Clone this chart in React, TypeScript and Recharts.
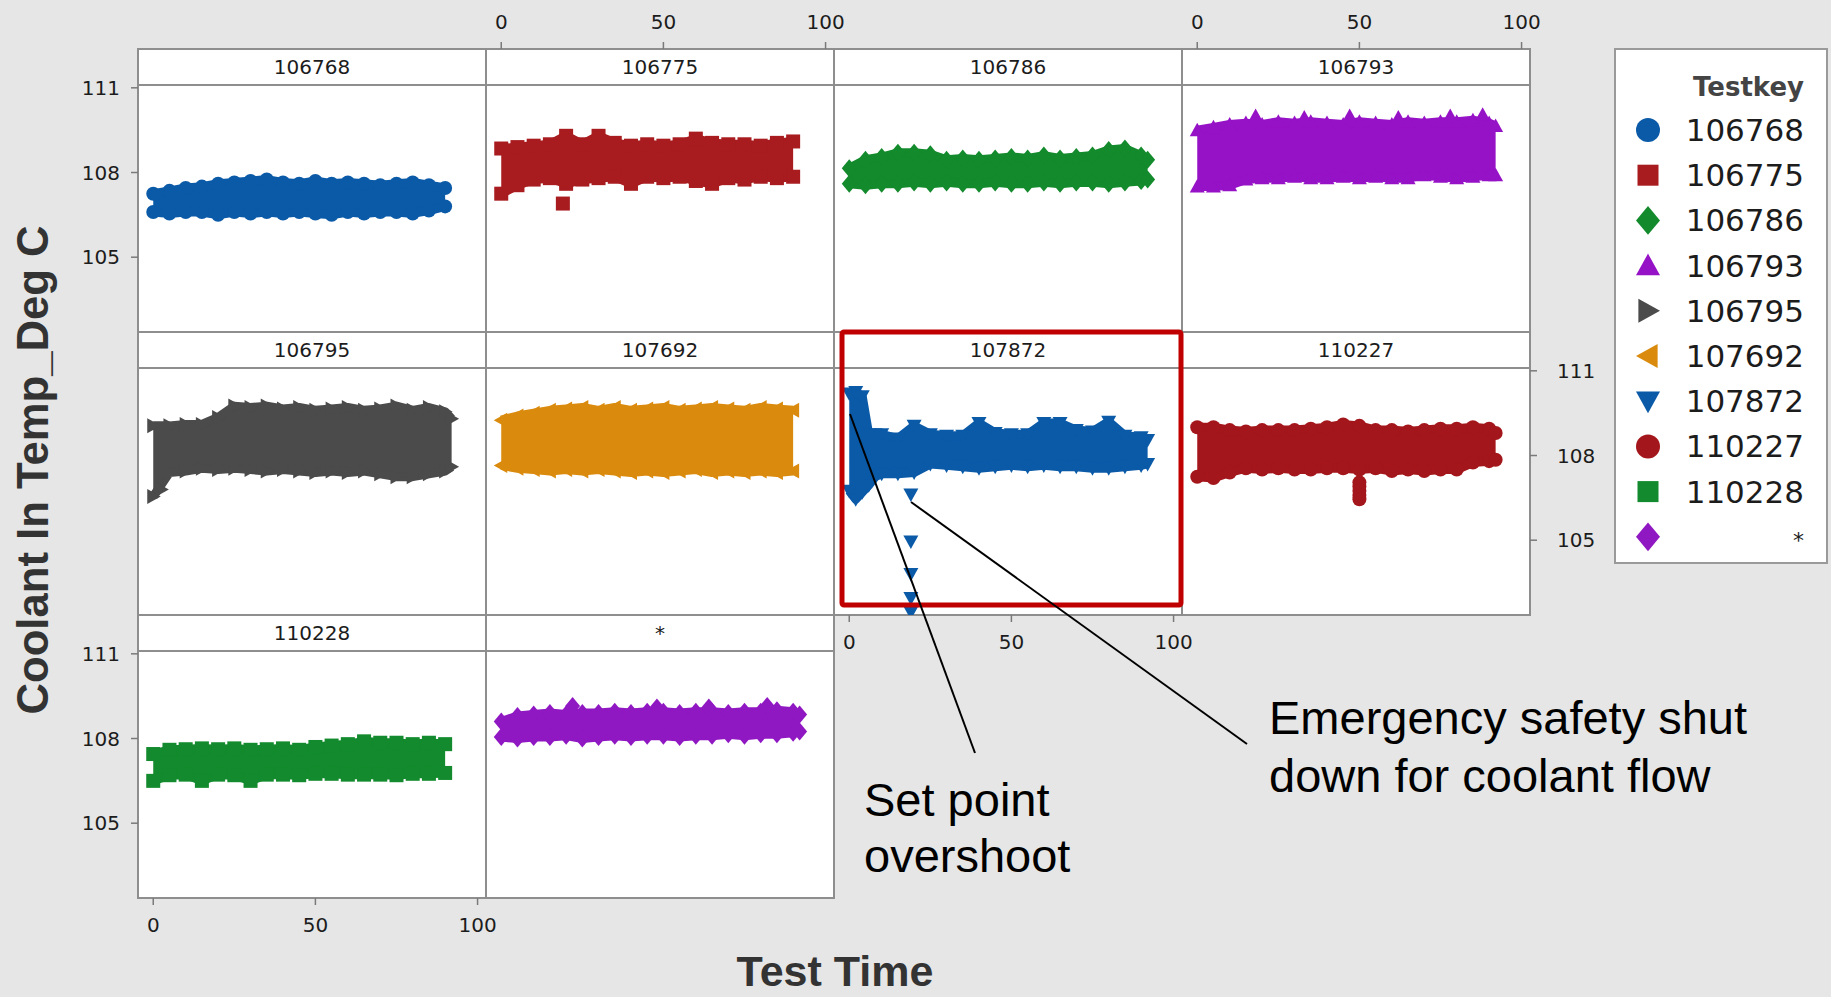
import React from 'react';
import { ComposedChart, Area, Scatter, XAxis, YAxis, ReferenceArea } from 'recharts';

type Shape = 'circle' | 'square' | 'diamond' | 'up' | 'down' | 'left' | 'right';

// ---- Series (one per Testkey) ----
const TESTKEYS = ['106768', '106775', '106786', '106793', '106795', '107692', '107872', '110227', '110228', '*'];
const SERIES_COLORS = ['#0b5aa8', '#a81c1f', '#138a2c', '#9612c6', '#4b4b4b', '#da8b0e', '#0b5aa8', '#a3161b', '#128a2d', '#9018c2'];
const SERIES_SHAPES: Shape[] = ['circle', 'square', 'diamond', 'up', 'right', 'left', 'down', 'circle', 'square', 'diamond'];

// ---- Tick labels ----
const X_TICKS = [0, 50, 100];
const Y_TICKS = [105, 108, 111];

// ---- Test time sampling ----
const TIME = [0, 5, 10, 15, 20, 25, 30, 35, 40, 45, 50, 55, 60, 65, 70, 75, 80, 85, 90];
const TIME_LONG = [...TIME, 92];
const TIME_107872 = [0, 2, 4, 6, 8, 10, 15, 20, 25, 30, 35, 40, 45, 50, 55, 60, 65, 70, 75, 80, 85, 90, 92];

// ---- Coolant temperature envelopes (upper / lower readings) ----
const HI_106768 = [107.25, 107.35, 107.45, 107.5, 107.6, 107.65, 107.7, 107.75, 107.65, 107.6, 107.7, 107.6, 107.65, 107.6, 107.55, 107.6, 107.65, 107.55, 107.45];
const LO_106768 = [106.6, 106.55, 106.6, 106.6, 106.5, 106.6, 106.55, 106.6, 106.55, 106.6, 106.55, 106.5, 106.6, 106.55, 106.6, 106.6, 106.55, 106.65, 106.8];

const HI_106775 = [108.85, 108.9, 108.95, 109.0, 109.3, 109.0, 109.3, 109.05, 108.95, 109.0, 108.95, 109.0, 109.2, 109.05, 109.0, 109.0, 108.95, 109.05, 109.1];
const LO_106775 = [107.25, 107.55, 107.75, 107.8, 107.6, 107.75, 107.8, 107.85, 107.6, 107.85, 107.8, 107.85, 107.7, 107.6, 107.8, 107.75, 107.85, 107.8, 107.85];
const OUT_T_106775 = [19];
const OUT_V_106775 = [106.9];

const HI_106786 = [108.15, 108.45, 108.55, 108.7, 108.7, 108.65, 108.45, 108.5, 108.45, 108.5, 108.55, 108.5, 108.6, 108.5, 108.55, 108.6, 108.8, 108.85, 108.6, 108.45];
const LO_106786 = [107.6, 107.55, 107.6, 107.6, 107.65, 107.6, 107.65, 107.6, 107.6, 107.65, 107.6, 107.6, 107.65, 107.6, 107.65, 107.65, 107.6, 107.65, 107.7, 107.75];

const HI_106793 = [109.5, 109.6, 109.7, 109.75, 109.7, 109.8, 109.75, 109.8, 109.75, 109.7, 109.8, 109.75, 109.7, 109.8, 109.75, 109.8, 109.8, 109.85, 109.75, 109.65];
const LO_106793 = [107.5, 107.5, 107.55, 107.75, 107.8, 107.8, 107.85, 107.8, 107.8, 107.85, 107.8, 107.85, 107.8, 107.8, 107.9, 107.85, 107.8, 107.85, 107.9, 107.9];
const OUT_T_106793 = [18, 33, 47, 62, 78, 88];
const OUT_V_106793 = [110.0, 109.95, 110.0, 109.95, 110.0, 110.05];

const HI_106795 = [109.05, 109.05, 109.1, 109.1, 109.35, 109.75, 109.7, 109.75, 109.65, 109.7, 109.6, 109.65, 109.7, 109.6, 109.65, 109.75, 109.6, 109.7, 109.55, 109.3];
const LO_106795 = [106.55, 107.4, 107.45, 107.55, 107.5, 107.55, 107.5, 107.45, 107.5, 107.45, 107.4, 107.45, 107.4, 107.45, 107.35, 107.25, 107.25, 107.35, 107.45, 107.6];
const OUT_T_106795 = [2.5];
const OUT_V_106795 = [106.8];

const HI_107692 = [109.25, 109.4, 109.5, 109.6, 109.65, 109.7, 109.6, 109.7, 109.6, 109.65, 109.7, 109.6, 109.65, 109.7, 109.65, 109.6, 109.7, 109.65, 109.6];
const LO_107692 = [107.65, 107.55, 107.5, 107.45, 107.5, 107.45, 107.5, 107.45, 107.4, 107.45, 107.4, 107.45, 107.5, 107.4, 107.45, 107.4, 107.45, 107.4, 107.45];

const HI_107872 = [110.2, 110.25, 110.1, 108.75, 108.75, 108.75, 108.6, 109.05, 108.75, 108.7, 108.7, 109.15, 108.8, 108.75, 108.75, 109.15, 109.15, 108.9, 108.85, 109.2, 108.7, 108.65, 108.55];
const LO_107872 = [106.75, 106.45, 106.7, 106.95, 107.25, 107.35, 107.35, 107.4, 107.7, 107.65, 107.6, 107.55, 107.6, 107.65, 107.6, 107.65, 107.6, 107.6, 107.55, 107.55, 107.6, 107.65, 107.7];
const OUT_T_107872 = [19, 19, 19, 19, 19];
const OUT_V_107872 = [106.62, 104.95, 103.8, 102.95, 102.45];

const HI_110227 = [109.0, 109.0, 108.9, 108.85, 108.9, 108.9, 108.9, 108.95, 109.0, 109.1, 109.05, 108.9, 108.9, 108.85, 108.9, 108.95, 108.95, 109.0, 108.95, 108.8];
const LO_110227 = [107.25, 107.2, 107.4, 107.55, 107.5, 107.55, 107.5, 107.5, 107.55, 107.55, 107.5, 107.55, 107.45, 107.5, 107.45, 107.5, 107.5, 107.75, 107.8, 107.85];
const OUT_T_110227 = [50, 50, 50, 50, 50];
const OUT_V_110227 = [107.05, 106.9, 106.75, 106.6, 106.45];

const HI_110228 = [107.45, 107.6, 107.62, 107.65, 107.62, 107.65, 107.6, 107.62, 107.65, 107.6, 107.7, 107.75, 107.8, 107.9, 107.85, 107.85, 107.8, 107.85, 107.8];
const LO_110228 = [106.5, 106.7, 106.72, 106.5, 106.72, 106.7, 106.5, 106.72, 106.72, 106.7, 106.75, 106.75, 106.72, 106.72, 106.72, 106.7, 106.75, 106.75, 106.78];

const HI_STAR = [108.6, 108.8, 108.85, 108.9, 108.85, 108.9, 108.9, 108.95, 108.9, 108.95, 108.95, 108.9, 108.95, 108.95, 108.9, 108.95, 108.95, 109.0, 108.95, 108.85];
const LO_STAR = [108.05, 108.0, 108.05, 108.05, 108.1, 108.0, 108.05, 108.1, 108.05, 108.1, 108.1, 108.05, 108.1, 108.1, 108.15, 108.1, 108.15, 108.15, 108.2, 108.25];
const OUT_T_STAR = [22, 48, 64, 82];
const OUT_V_STAR = [109.15, 109.1, 109.1, 109.15];

// ---- Panel arrangement (row, column, which axes are labelled) ----
const PANEL_ROW = [0, 0, 0, 0, 1, 1, 1, 1, 2, 2];
const PANEL_COL = [0, 1, 2, 3, 0, 1, 2, 3, 0, 1];
const PANEL_X_SIDE: ('top' | 'bottom' | null)[] = [null, 'top', null, 'top', null, null, 'bottom', null, 'bottom', null];
const PANEL_Y_SIDE: ('left' | 'right' | null)[] = ['left', null, null, null, null, null, null, 'right', 'left', null];
const PANEL_TIME = [TIME, TIME, TIME_LONG, TIME_LONG, TIME_LONG, TIME, TIME_107872, TIME_LONG, TIME, TIME_LONG];
const PANEL_HI = [HI_106768, HI_106775, HI_106786, HI_106793, HI_106795, HI_107692, HI_107872, HI_110227, HI_110228, HI_STAR];
const PANEL_LO = [LO_106768, LO_106775, LO_106786, LO_106793, LO_106795, LO_107692, LO_107872, LO_110227, LO_110228, LO_STAR];
const PANEL_OUT_T = [[], OUT_T_106775, [], OUT_T_106793, OUT_T_106795, [], OUT_T_107872, OUT_T_110227, [], OUT_T_STAR];
const PANEL_OUT_V = [[], OUT_V_106775, [], OUT_V_106793, OUT_V_106795, [], OUT_V_107872, OUT_V_110227, [], OUT_V_STAR];

// ---- Geometry ----
const COL_LEFT = 138;
const COL_W = 348;
const ROW_TOP = 49;
const ROW_H = 283;
const STRIP_H = 36;
const PLOT_H = ROW_H - STRIP_H;
const PAD = 70;
const YW = 55;
const XH = 45;

const X_DOMAIN: [number, number] = [-4.7, 102.6];
const Y_MIN = 102.35;
const Y_MAX = 111.1;
const Y_STRIP_TOP = Y_MAX + (STRIP_H * (Y_MAX - Y_MIN)) / PLOT_H;

const TICK_FONT = { fill: '#1c1c1c', fontSize: 20, fontFamily: 'DejaVu Sans' };
const GRID_STROKE = '#8e8e8e';

function Marker({ shape, cx, cy, s, color }: { shape: Shape; cx: number; cy: number; s: number; color: string }) {
  const h = s / 2;
  if (cx == null || cy == null || isNaN(cx) || isNaN(cy)) return null;
  switch (shape) {
    case 'circle':
      return <circle cx={cx} cy={cy} r={h} fill={color} />;
    case 'square':
      return <rect x={cx - h} y={cy - h} width={s} height={s} fill={color} />;
    case 'diamond':
      return <polygon points={`${cx},${cy - h * 1.2} ${cx + h},${cy} ${cx},${cy + h * 1.2} ${cx - h},${cy}`} fill={color} />;
    case 'up':
      return <polygon points={`${cx},${cy - h} ${cx + h},${cy + h * 0.8} ${cx - h},${cy + h * 0.8}`} fill={color} />;
    case 'down':
      return <polygon points={`${cx - h},${cy - h * 0.8} ${cx + h},${cy - h * 0.8} ${cx},${cy + h}`} fill={color} />;
    case 'right':
      return <polygon points={`${cx - h * 0.8},${cy - h} ${cx + h},${cy} ${cx - h * 0.8},${cy + h}`} fill={color} />;
    case 'left':
      return <polygon points={`${cx + h * 0.8},${cy - h} ${cx - h},${cy} ${cx + h * 0.8},${cy + h}`} fill={color} />;
  }
  return null;
}

function Panel({ idx }: { idx: number }) {
  const row = PANEL_ROW[idx];
  const col = PANEL_COL[idx];
  const xSide = PANEL_X_SIDE[idx];
  const ySide = PANEL_Y_SIDE[idx];
  const color = SERIES_COLORS[idx];
  const shape = SERIES_SHAPES[idx];
  const size = shape === 'circle' || shape === 'square' ? 14 : 15;
  const time = PANEL_TIME[idx];
  const hi = PANEL_HI[idx];
  const lo = PANEL_LO[idx];
  const data = time.map((t, i) => ({ t, hi: hi[i], lo: lo[i], band: [lo[i], hi[i]] }));
  const outliers = PANEL_OUT_T[idx].map((t, i) => ({ t, v: PANEL_OUT_V[idx][i] }));
  const margin = {
    top: PAD - (xSide === 'top' ? XH : 0),
    bottom: PAD - (xSide === 'bottom' ? XH : 0),
    left: PAD - (ySide === 'left' ? YW : 0),
    right: PAD - (ySide === 'right' ? YW : 0),
  };
  const drawMarker = (p: any) => <Marker shape={shape} cx={p.cx} cy={p.cy} s={size} color={color} />;

  return (
    <div style={{ position: 'absolute', left: COL_LEFT + col * COL_W - PAD, top: ROW_TOP + row * ROW_H - PAD }}>
      <ComposedChart width={COL_W + 2 * PAD} height={ROW_H + 2 * PAD} data={data} margin={margin}>
        <XAxis
          dataKey="t"
          type="number"
          domain={X_DOMAIN}
          allowDataOverflow
          ticks={X_TICKS}
          interval={0}
          orientation={xSide ?? 'bottom'}
          hide={!xSide}
          height={XH}
          axisLine={false}
          tickLine={{ stroke: '#7a7a7a', strokeWidth: 1.5 }}
          tickSize={7}
          tickMargin={13}
          tick={TICK_FONT}
        />
        <YAxis
          type="number"
          domain={[Y_MIN, Y_STRIP_TOP]}
          allowDataOverflow
          ticks={Y_TICKS}
          interval={0}
          orientation={ySide ?? 'left'}
          hide={!ySide}
          width={YW}
          axisLine={false}
          tickLine={{ stroke: '#7a7a7a', strokeWidth: 1.5 }}
          tickSize={7}
          tickMargin={ySide === 'right' ? 20 : 11}
          tick={TICK_FONT}
        />
        <ReferenceArea
          y1={Y_MAX}
          y2={Y_STRIP_TOP}
          fill="none"
          stroke="none"
          ifOverflow="visible"
          label={{ value: TESTKEYS[idx], position: 'center', fill: '#1c1c1c', fontSize: 20, fontFamily: 'DejaVu Sans' }}
        />
        <Area
          dataKey="band"
          type="linear"
          fill={color}
          fillOpacity={1}
          stroke={color}
          strokeWidth={9}
          strokeLinejoin="round"
          dot={false}
          activeDot={false}
          isAnimationActive={false}
        />
        <Scatter dataKey="hi" shape={drawMarker} isAnimationActive={false} />
        <Scatter dataKey="lo" shape={drawMarker} isAnimationActive={false} />
        {outliers.length > 0 && <Scatter data={outliers} dataKey="v" shape={drawMarker} isAnimationActive={false} />}
      </ComposedChart>
    </div>
  );
}

function Frames() {
  return (
    <svg width={1831} height={997} style={{ position: 'absolute', left: 0, top: 0 }}>
      {PANEL_ROW.map((row, i) => {
        const x = COL_LEFT + PANEL_COL[i] * COL_W;
        const y = ROW_TOP + row * ROW_H;
        return (
          <g key={i}>
            <rect x={x} y={y} width={COL_W} height={ROW_H} fill="#ffffff" stroke={GRID_STROKE} strokeWidth={2} />
            <line x1={x} x2={x + COL_W} y1={y + STRIP_H} y2={y + STRIP_H} stroke={GRID_STROKE} strokeWidth={2} />
          </g>
        );
      })}
    </svg>
  );
}

function LegendBox() {
  const left = 1615;
  const top = 49;
  const w = 212;
  const h = 514;
  const rowY = (i: number) => 130 + i * 45.2;
  return (
    <svg width={1831} height={997} style={{ position: 'absolute', left: 0, top: 0 }}>
      <rect x={left} y={top} width={w} height={h} fill="#ffffff" stroke="#9a9a9a" strokeWidth={2} />
      <text x={1804} y={96} textAnchor="end" fontFamily="DejaVu Sans" fontWeight="bold" fontSize={26} fill="#444">
        Testkey
      </text>
      {TESTKEYS.map((k, i) => (
        <g key={k}>
          <Marker shape={SERIES_SHAPES[i]} cx={1648} cy={rowY(i)} s={SERIES_SHAPES[i] === 'square' ? 21 : 24} color={SERIES_COLORS[i]} />
          <text
            x={1804}
            y={rowY(i) + 11}
            textAnchor="end"
            fontFamily="DejaVu Sans"
            fontSize={k === '*' ? 22 : 31}
            fill="#1c1c1c"
          >
            {k}
          </text>
        </g>
      ))}
    </svg>
  );
}

function Overlay() {
  return (
    <svg width={1831} height={997} style={{ position: 'absolute', left: 0, top: 0 }}>
      {/* highlight around the 107872 panel */}
      <rect x={842} y={332} width={339} height={273} fill="none" stroke="#c00000" strokeWidth={5} rx={2} />
      {/* callout leaders */}
      <line x1={850} y1={414} x2={975} y2={753} stroke="#000" strokeWidth={2} />
      <line x1={911} y1={502} x2={1247} y2={744} stroke="#000" strokeWidth={2} />
      <g fontFamily="Liberation Sans, Arial, sans-serif" fontSize={47} fill="#000">
        <text x={864} y={816}>Set point</text>
        <text x={864} y={872}>overshoot</text>
        <text x={1269} y={734}>Emergency safety shut</text>
        <text x={1269} y={792}>down for coolant flow</text>
      </g>
      {/* axis titles */}
      <text
        x={835}
        y={986}
        textAnchor="middle"
        fontFamily="Liberation Sans, Arial, sans-serif"
        fontWeight="bold"
        fontSize={43}
        fill="#333"
      >
        Test Time
      </text>
      <text
        transform="translate(48 470) rotate(-90)"
        textAnchor="middle"
        fontFamily="Liberation Sans, Arial, sans-serif"
        fontWeight="bold"
        fontSize={44}
        fill="#333"
        textLength={489}
        lengthAdjust="spacingAndGlyphs"
      >
        Coolant In Temp_Deg C
      </text>
    </svg>
  );
}

export default function App() {
  return (
    <div
      style={{
        position: 'absolute',
        left: 0,
        top: 0,
        width: 1831,
        height: 997,
        background: '#e6e6e6',
        overflow: 'hidden',
      }}
    >
      <Frames />
      {TESTKEYS.map((k, i) => (
        <Panel key={k} idx={i} />
      ))}
      <LegendBox />
      <Overlay />
    </div>
  );
}
